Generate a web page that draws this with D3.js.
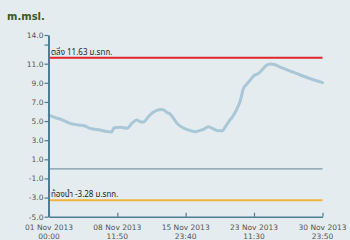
<!DOCTYPE html>
<html><head><meta charset="utf-8">
<script src="https://cdn.jsdelivr.net/npm/d3@7"></script>
<style>
html,body{margin:0;padding:0;background:#e5ecef;}
svg{display:block;}
</style></head>
<body>
<svg id="c" width="350" height="240"></svg>
<script>
// Data (days since 01 Nov 2013 00:00, water level m.msl.)
const dayOffsets = [0.0,0.66,1.39,2.3,3.22,3.95,4.5,5.6,6.33,6.86,7.14,7.8,8.56,9.08,9.63,10.0,10.35,10.87,11.31,11.82,12.3,12.62,12.95,13.28,13.65,14.05,14.74,15.48,16.03,16.58,16.91,17.49,18.04,18.56,19.0,19.33,19.7,20.1,20.6,20.97,21.33,21.7,22.07,22.43,22.98,23.35,23.82,24.26,24.7,25.36,26.46,27.55,28.84,29.993];
const levels = [5.63,5.37,5.16,4.76,4.59,4.48,4.24,4.06,3.91,3.85,4.3,4.35,4.24,4.76,5.11,4.93,4.9,5.42,5.84,6.12,6.2,6.15,5.89,5.74,5.29,4.76,4.27,4.01,3.89,4.03,4.12,4.41,4.17,3.99,3.99,4.38,4.93,5.42,6.26,7.1,8.42,8.87,9.29,9.71,9.99,10.34,10.81,10.97,10.91,10.65,10.23,9.82,9.37,9.01];
const xTickDates = ["2013-11-01T00:00","2013-11-08T11:50","2013-11-15T23:40","2013-11-23T11:30","2013-11-30T23:50"];
const yTicks = [14,13,11,9,7,5,3,1,-1,-3,-5];
const yLabelled = [14,11,9,7,5,3,1,-1,-3,-5];
const bankLevel = 11.63;
const bedLevel = -3.28;
const bankLabel = "ตลิ่ง 11.63 ม.รทก.";
const bedLabel = "ท้องน้ำ -3.28 ม.รทก.";
const unitLabel = "m.msl.";

const parse = d3.timeParse("%Y-%m-%dT%H:%M");
const start = parse("2013-11-01T00:00");
const end = parse("2013-11-30T23:50");
const data = dayOffsets.map((d,i)=>({t:new Date(start.getTime()+d*86400000), v:levels[i]}));

const svg = d3.select("#c");
const x = d3.scaleTime().domain([start,end]).range([49,322.5]);
const y = d3.scaleLinear().domain([-5,14]).range([216.7,35]);
const font = "'DejaVu Sans', Verdana, sans-serif";
const thaiFont = "'Noto Sans Thai','Loma','Garuda','Tahoma','DejaVu Sans',sans-serif";

svg.append("text").attr("x",7).attr("y",20).text(unitLabel)
  .attr("font-family",font).attr("font-weight","bold").attr("font-size","10px").attr("fill","#3b5a1e");

// zero line
svg.append("line").attr("x1",x(start)).attr("x2",x(end)).attr("y1",y(0)).attr("y2",y(0))
  .attr("stroke","#7b97a5").attr("stroke-width",1.2);
// bank line
svg.append("line").attr("x1",x(start)).attr("x2",x(end)).attr("y1",y(bankLevel)).attr("y2",y(bankLevel))
  .attr("stroke","#e0252b").attr("stroke-width",2);
svg.append("line").attr("x1",x(start)).attr("x2",x(end)).attr("y1",y(bedLevel)).attr("y2",y(bedLevel))
  .attr("stroke","#f2b33d").attr("stroke-width",2);
svg.append("text").attr("x",51).attr("y",y(bankLevel)-3).text(bankLabel)
  .attr("font-family",thaiFont).attr("font-size","8px").attr("fill","#222");
svg.append("text").attr("x",51).attr("y",y(bedLevel)-3).text(bedLabel)
  .attr("font-family",thaiFont).attr("font-size","8px").attr("fill","#222");

// series line
svg.append("path").datum(data)
  .attr("d", d3.line().x(d=>x(d.t)).y(d=>y(d.v)).curve(d3.curveMonotoneX))
  .attr("fill","none").attr("stroke","#a9c7d6").attr("stroke-width",3).attr("stroke-linejoin","round").attr("stroke-linecap","round");

// y axis
const yAxis = d3.axisLeft(y).tickValues(yTicks).tickSize(4).tickSizeOuter(0)
  .tickFormat(d=> yLabelled.includes(d) ? d3.format(".1f")(d).replace("−","-") : "");
const gy = svg.append("g").attr("transform","translate(48.5,0)").call(yAxis);
gy.select(".domain").attr("stroke","#4d7d92").attr("stroke-width",2);
gy.selectAll(".tick line").attr("stroke","#4d7d92").attr("stroke-width",1.2);
gy.selectAll(".tick text").attr("font-family",font).attr("font-size","7.5px").attr("fill","#555").attr("x",-5);

// x axis
const xt = xTickDates.map(parse);
const xAxis = d3.axisBottom(x).tickValues(xt).tickSize(-4).tickSizeOuter(0).tickFormat("");
const gx = svg.append("g").attr("transform","translate(0,216.7)").call(xAxis);
gx.select(".domain").attr("stroke","#4d7d92").attr("stroke-width",1.5);
gx.selectAll(".tick line").attr("stroke","#4d7d92").attr("stroke-width",1.2);
const fmt1 = d3.timeFormat("%d %b %Y"), fmt2 = d3.timeFormat("%H:%M");
xt.forEach(d=>{
  const t = svg.append("text").attr("x",x(d)).attr("text-anchor","middle")
    .attr("font-family",font).attr("font-size","7.5px").attr("fill","#555");
  t.append("tspan").attr("x",x(d)).attr("y",230).text(fmt1(d));
  t.append("tspan").attr("x",x(d)).attr("y",239).text(fmt2(d));
});
</script>
</body></html>
